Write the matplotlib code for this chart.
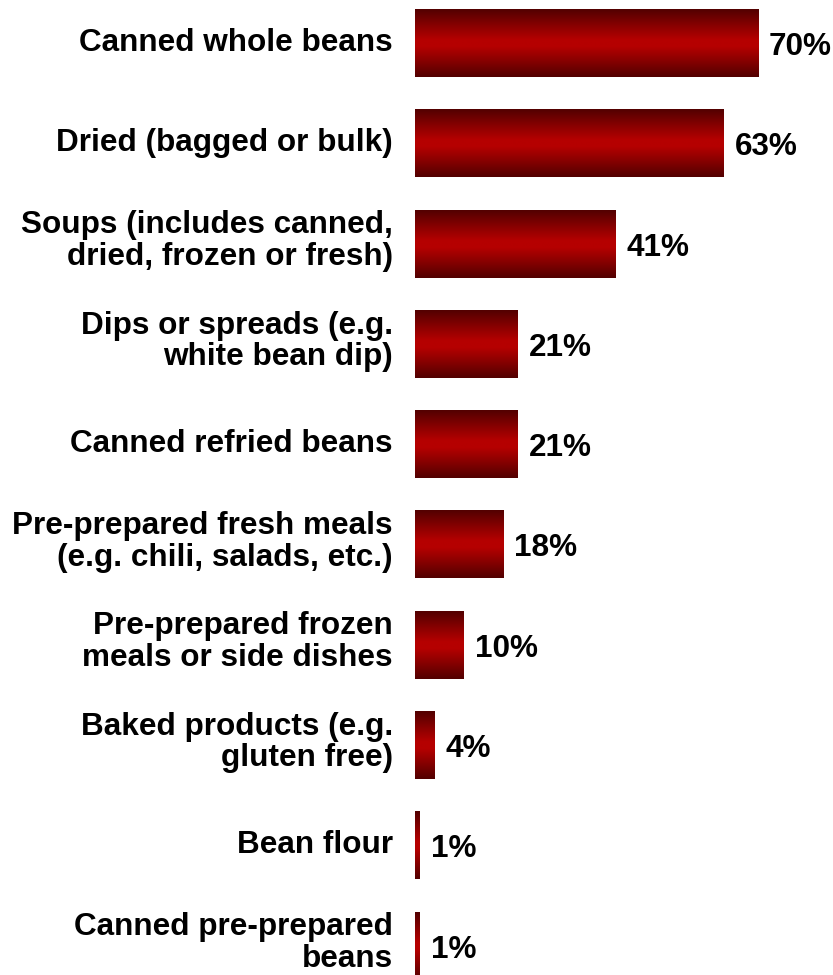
import numpy as np
import matplotlib.pyplot as plt
from matplotlib.colors import LinearSegmentedColormap

categories = [
    "Canned whole beans",
    "Dried (bagged or bulk)",
    "Soups (includes canned,\ndried, frozen or fresh)",
    "Dips or spreads (e.g.\nwhite bean dip)",
    "Canned refried beans",
    "Pre-prepared fresh meals\n(e.g. chili, salads, etc.)",
    "Pre-prepared frozen\nmeals or side dishes",
    "Baked products (e.g.\ngluten free)",
    "Bean flour",
    "Canned pre-prepared\nbeans",
]
values = [70, 63, 41, 21, 21, 18, 10, 4, 1, 1]

plt.rcParams['font.family'] = ['Liberation Sans', 'DejaVu Sans']

W, H = 833, 975
fig = plt.figure(figsize=(W / 100, H / 100), dpi=100)
left = 415 / W
ax = fig.add_axes([left, 0, 1 - left, 1])
ax.axis('off')

px_per_pct = 4.9
step = 100.3          # px between bar centres
cap = 11.5 / step     # half the cap height, in data units

# dark edges, bright red middle
grad = LinearSegmentedColormap.from_list(
    'beanred',
    [(0.0, '#520000'), (0.25, '#8a0000'), (0.45, '#b50000'),
     (0.55, '#b50000'), (0.75, '#8a0000'), (1.0, '#520000')])
col = np.linspace(0, 1, 256).reshape(-1, 1)

bar_h = 0.67
for i, (cat, v) in enumerate(zip(categories, values)):
    ax.imshow(col, cmap=grad, aspect='auto', interpolation='bilinear',
              extent=(0, v, i + bar_h / 2, i - bar_h / 2), zorder=2)
    ax.text(v + 11 / px_per_pct, i + cap, f"{v}%", ha='left', va='baseline',
            fontsize=22.7, fontweight='bold', color='black')
    if "\n" in cat:
        ax.text(-22 / px_per_pct, i - 0.03, cat, ha='right', va='center',
                fontsize=22.7, fontweight='bold', color='black',
                linespacing=1.07, clip_on=False)
    else:
        ax.text(-22 / px_per_pct, i + cap - 0.04, cat, ha='right',
                va='baseline', fontsize=22.7, fontweight='bold',
                color='black', clip_on=False)

ax.set_xlim(0, (W - 415) / px_per_pct)
ax.set_ylim(9 + (H - 946) / step, -43.5 / step)

fig.savefig('out.png', dpi=100)
